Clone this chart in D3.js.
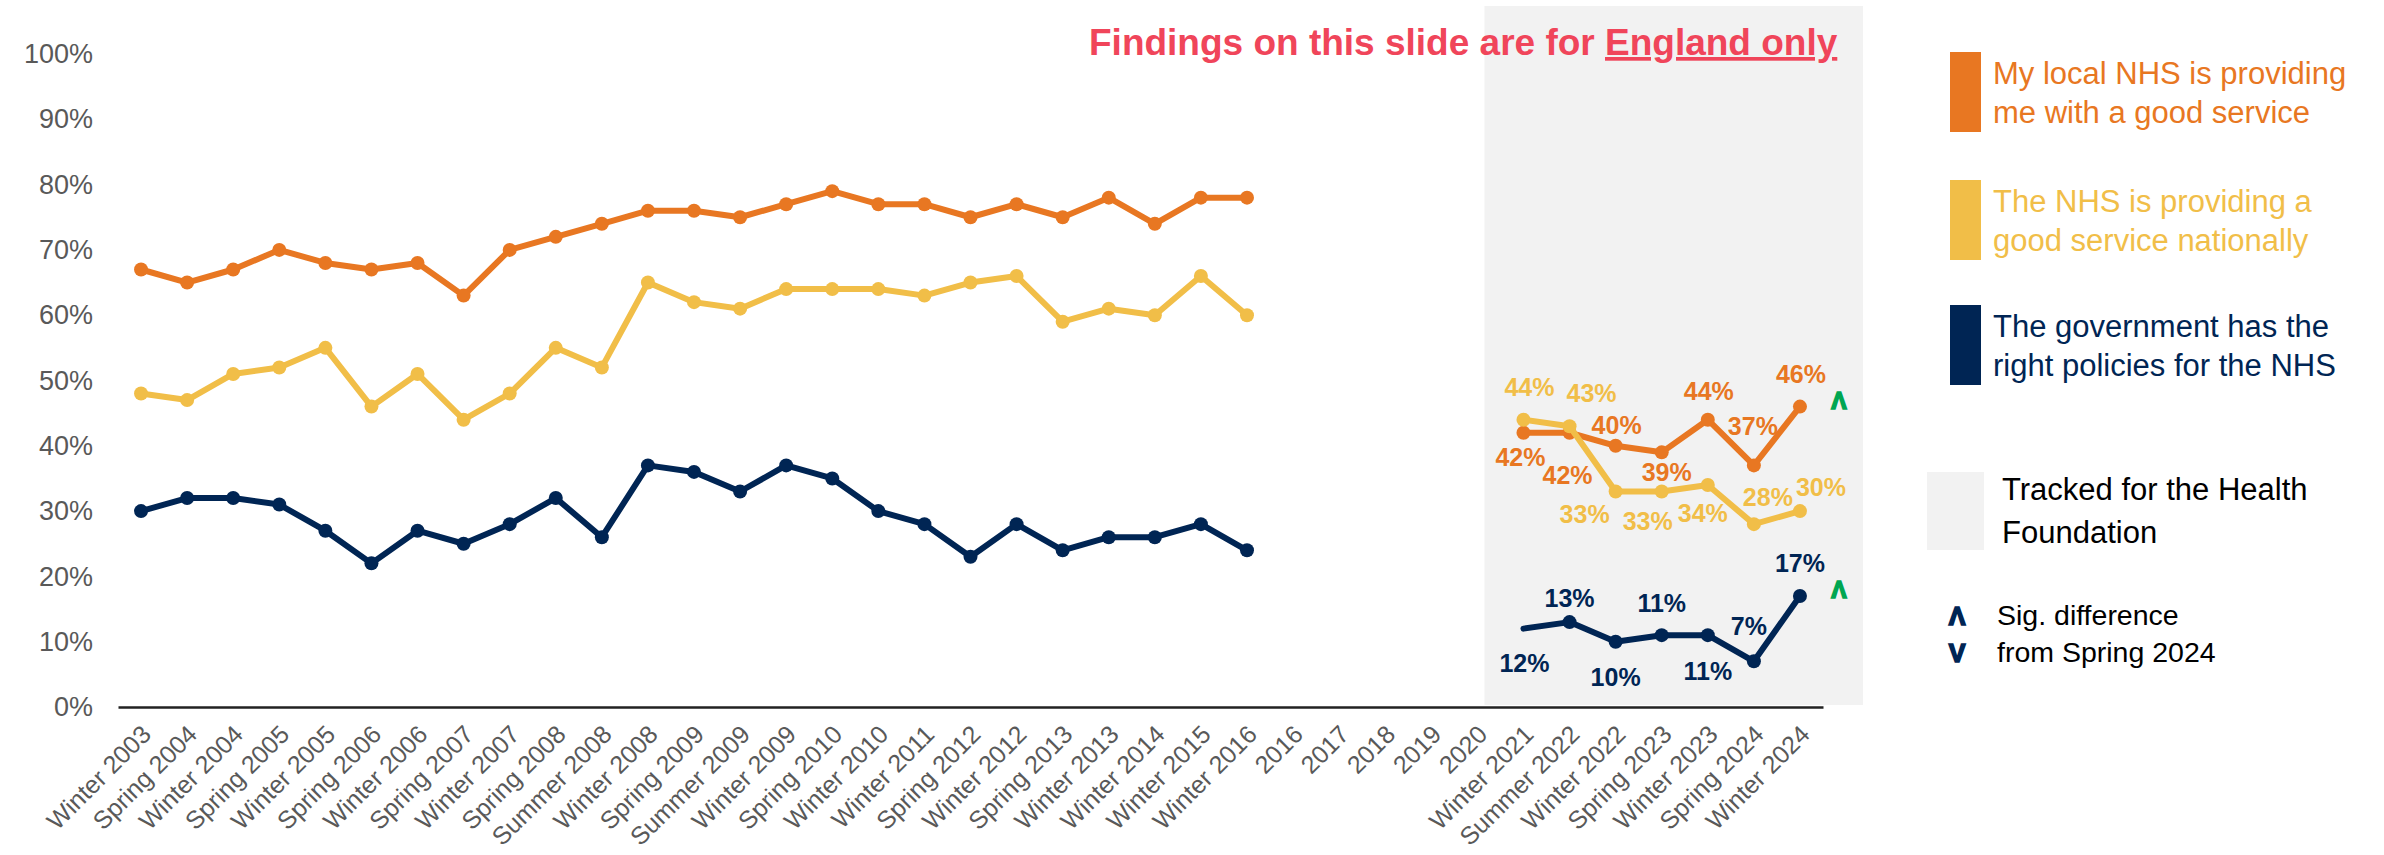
<!DOCTYPE html>
<html>
<head>
<meta charset="utf-8">
<script src="https://cdn.jsdelivr.net/npm/d3@7"></script>
<style>
  body { margin: 0; background: #fff; }
  svg { display: block; font-family: "Liberation Sans", Arial, sans-serif; }
</style>
</head>
<body>
<svg id="chart" width="2384" height="855"></svg>
<script>
var categories = ['Winter 2003', 'Spring 2004', 'Winter 2004', 'Spring 2005', 'Winter 2005',
    'Spring 2006', 'Winter 2006', 'Spring 2007', 'Winter 2007', 'Spring 2008', 'Summer 2008',
    'Winter 2008', 'Spring 2009', 'Summer 2009', 'Winter 2009', 'Spring 2010', 'Winter 2010',
    'Winter 2011', 'Spring 2012', 'Winter 2012', 'Spring 2013', 'Winter 2013', 'Winter 2014',
    'Winter 2015', 'Winter 2016', '2016', '2017', '2018', '2019', '2020', 'Winter 2021',
    'Summer 2022', 'Winter 2022', 'Spring 2023', 'Winter 2023', 'Spring 2024', 'Winter 2024'];

var localNHS = [67, 65, 67, 70, 68, 67, 68, 63, 70, 72, 74, 76, 76, 75, 77, 79, 77, 77, 75, 77, 75,
    78, 74, 78, 78, null, null, null, null, null, 42, 42, 40, 39, 44, 37, 46];
var nationalNHS = [48, 47, 51, 52, 55, 46, 51, 44, 48, 55, 52, 65, 62, 61, 64, 64, 64, 63, 65, 66, 59,
    61, 60, 66, 60, null, null, null, null, null, 44, 43, 33, 33, 34, 28, 30];
var government = [30, 32, 32, 31, 27, 22, 27, 25, 28, 32, 26, 37, 36, 33, 37, 35, 30, 28, 23, 28, 24,
    26, 26, 28, 24, null, null, null, null, null, 12, 13, 10, 11, 11, 7, 17];

var yTicks = [0, 10, 20, 30, 40, 50, 60, 70, 80, 90, 100];
var trackedCategories = ['Winter 2021', 'Summer 2022', 'Winter 2022', 'Spring 2023', 'Winter 2023', 'Spring 2024', 'Winter 2024'];
var sigUpCategories = { local: ['Winter 2024'], national: [], government: ['Winter 2024'] };

// label offsets for the tracked points (dx, dy from the point)
var localLabelPos = [[-3, 24], [-2, 42], [1, -21], [5, 20], [1, -29], [-1, -39], [1, -33]];
var nationalLabelPos = [[6, -33], [22, -33], [-31, 22], [-14, 29], [-5, 28], [14, -27], [21, -24]];
var governmentLabelPos = [[1, 34], [0, -24], [0, 35], [0, -32], [0, 36], [-5, -35], [0, -33]];

var series = [
    { key: 'local', values: localNHS, color: '#E87722', labelPos: localLabelPos,
      name: ['My local NHS is providing', 'me with a good service'] },
    { key: 'national', values: nationalNHS, color: '#F1BE48', labelPos: nationalLabelPos,
      name: ['The NHS is providing a', 'good service nationally'] },
    { key: 'government', values: government, color: '#002554', labelPos: governmentLabelPos,
      name: ['The government has the', 'right policies for the NHS'], noMarker: ['Winter 2021'] }
];

var svg = d3.select('#chart');

var x = d3.scalePoint()
    .domain(categories)
    .range([118, 1823])
    .padding(0.5);

var y = d3.scaleLinear()
    .domain([0, 100])
    .range([707, 54]);

// grey "tracked" panel
var firstTracked = x(trackedCategories[0]);
svg.append('rect')
    .attr('x', firstTracked - 39)
    .attr('y', 6)
    .attr('width', x(trackedCategories[trackedCategories.length - 1]) - firstTracked + 102)
    .attr('height', 699)
    .attr('fill', '#F2F2F2');

// y axis
var yAxis = svg.append('g')
    .attr('transform', 'translate(118,0)')
    .call(d3.axisLeft(y).tickValues(yTicks).tickSize(0).tickPadding(25)
        .tickFormat(function (d) { return d + '%'; }));
yAxis.select('.domain').remove();
yAxis.selectAll('text')
    .attr('font-size', 27)
    .attr('font-family', '"Liberation Sans", Arial, sans-serif')
    .attr('fill', '#595959');

// x axis
var xAxis = svg.append('g')
    .attr('transform', 'translate(0,707)')
    .call(d3.axisBottom(x).tickSize(0).tickSizeOuter(0));
xAxis.select('.domain')
    .attr('stroke', '#222')
    .attr('stroke-width', 2.5);
xAxis.selectAll('text')
    .attr('y', 0)
    .attr('dy', null)
    .attr('text-anchor', 'end')
    .attr('transform', 'translate(11,29) rotate(-45)')
    .attr('font-size', 25)
    .attr('font-family', '"Liberation Sans", Arial, sans-serif')
    .attr('fill', '#595959');

var line = d3.line()
    .defined(function (d) { return d.v != null; })
    .x(function (d) { return x(d.c); })
    .y(function (d) { return y(d.v); });

series.forEach(function (s) {
    var pts = s.values.map(function (v, i) { return { c: categories[i], v: v }; });
    svg.append('path')
        .datum(pts)
        .attr('d', line)
        .attr('fill', 'none')
        .attr('stroke', s.color)
        .attr('stroke-width', 6)
        .attr('stroke-linejoin', 'round')
        .attr('stroke-linecap', 'round');

    svg.selectAll(null)
        .data(pts.filter(function (d) {
            return d.v != null && !(s.noMarker && s.noMarker.indexOf(d.c) >= 0);
        }))
        .enter().append('circle')
        .attr('cx', function (d) { return x(d.c); })
        .attr('cy', function (d) { return y(d.v); })
        .attr('r', 7)
        .attr('fill', s.color);

    // data labels on the tracked points
    var tracked = pts.filter(function (d) { return trackedCategories.indexOf(d.c) >= 0; });
    svg.selectAll(null)
        .data(tracked)
        .enter().append('text')
        .attr('x', function (d, i) { return x(d.c) + s.labelPos[i][0]; })
        .attr('y', function (d, i) { return y(d.v) + s.labelPos[i][1]; })
        .attr('dy', '0.36em')
        .attr('text-anchor', 'middle')
        .attr('font-size', 25)
        .attr('font-weight', 700)
        .attr('fill', s.color)
        .text(function (d) { return d.v + '%'; });

    // significance markers
    svg.selectAll(null)
        .data(pts.filter(function (d) { return sigUpCategories[s.key].indexOf(d.c) >= 0; }))
        .enter().append('text')
        .attr('x', function (d) { return x(d.c) + 39; })
        .attr('y', function (d) { return y(d.v) - 6; })
        .attr('dy', '0.36em')
        .attr('text-anchor', 'middle')
        .attr('font-size', 23)
        .attr('font-weight', 700)
        .attr('fill', '#00A651')
        .attr('stroke', '#00A651')
        .attr('stroke-width', 1.6)
        .text('Λ');
});

// title
var title = svg.append('text')
    .attr('x', 1089)
    .attr('y', 55)
    .attr('font-size', 37)
    .attr('font-weight', 700)
    .attr('fill', '#F0455A')
    .text('Findings on this slide are for ');
title.append('tspan')
    .attr('text-decoration', 'underline')
    .text('England only');

// legend
var legendTops = [52, 180, 305];
series.forEach(function (s, i) {
    svg.append('rect')
        .attr('x', 1950)
        .attr('y', legendTops[i])
        .attr('width', 31)
        .attr('height', 80)
        .attr('fill', s.color);
    var t = svg.append('text')
        .attr('font-size', 31)
        .attr('fill', s.color);
    s.name.forEach(function (ln, j) {
        t.append('tspan')
            .attr('x', 1993)
            .attr('y', legendTops[i] + 32 + j * 39)
            .text(ln);
    });
});

svg.append('rect')
    .attr('x', 1927)
    .attr('y', 472)
    .attr('width', 57)
    .attr('height', 78)
    .attr('fill', '#F2F2F2');
var tracked = svg.append('text')
    .attr('font-size', 31)
    .attr('fill', '#000');
['Tracked for the Health', 'Foundation'].forEach(function (ln, j) {
    tracked.append('tspan').attr('x', 2002).attr('y', 500 + j * 43).text(ln);
});

[['Λ', 'Sig. difference', 625], ['V', 'from Spring 2024', 662]].forEach(function (r) {
    svg.append('text')
        .attr('x', 1957)
        .attr('y', r[2])
        .attr('text-anchor', 'middle')
        .attr('font-size', 25)
        .attr('font-weight', 700)
        .attr('fill', '#002554')
        .attr('stroke', '#002554')
        .attr('stroke-width', 1.6)
        .text(r[0]);
    svg.append('text')
        .attr('x', 1997)
        .attr('y', r[2])
        .attr('font-size', 28.5)
        .attr('fill', '#000')
        .text(r[1]);
});
</script>
</body>
</html>
